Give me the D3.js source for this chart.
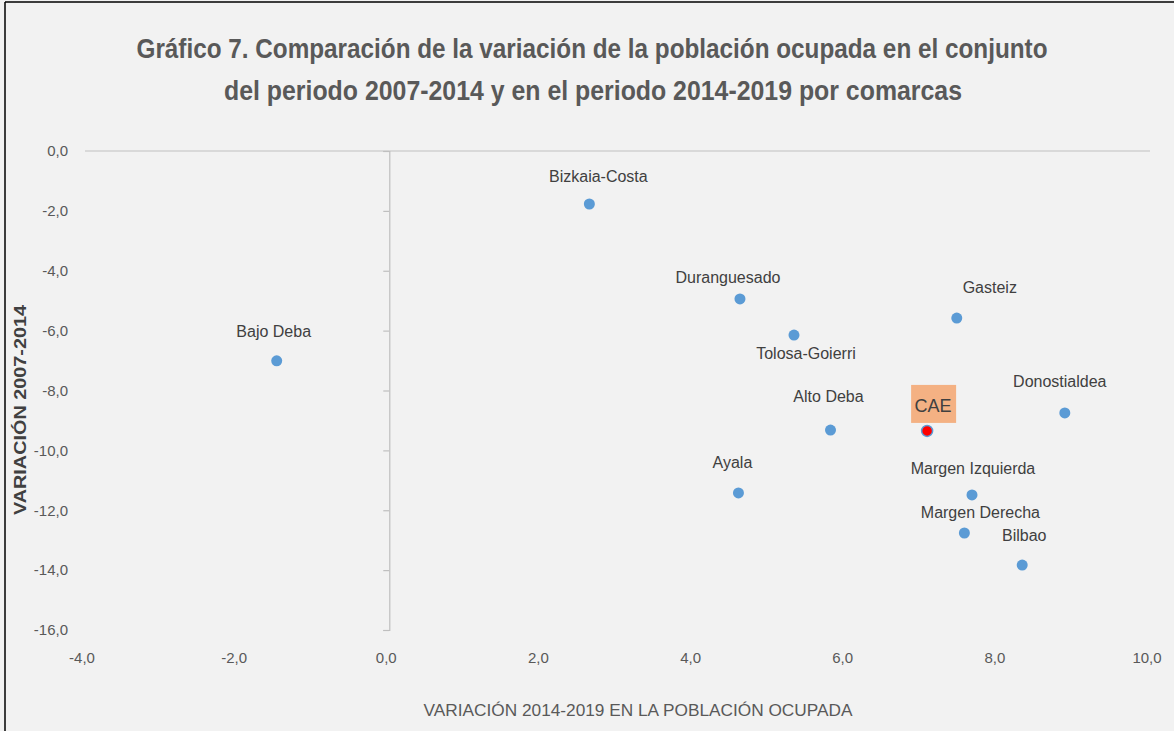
<!DOCTYPE html>
<html>
<head>
<meta charset="utf-8">
<script src="https://cdn.jsdelivr.net/npm/d3@7"></script>
<style>
  body { margin: 0; background: #f2f2f2; }
  svg { display: block; }
  text { font-family: "Liberation Sans", Arial, sans-serif; }
</style>
</head>
<body>
<div id="chart"></div>
<script>
// comarcas and their two variations
const comarcas = ["Bizkaia-Costa", "Duranguesado", "Tolosa-Goierri", "Alto Deba", "Ayala", "CAE",
  "Gasteiz", "Donostialdea", "Margen Izquierda", "Margen Derecha", "Bilbao", "Bajo Deba"];
const var1419 = [2.63, 4.61, 5.32, 5.80, 4.59, 7.07, 7.46, 8.88, 7.66, 7.56, 8.32, -1.48];
const var0714 = [-1.77, -4.94, -6.15, -9.32, -11.42, -9.35, -5.58, -8.75, -11.49, -12.76, -13.83, -7.01];
const xTicks = [-4, -2, 0, 2, 4, 6, 8, 10];
const yTicks = [0, -2, -4, -6, -8, -10, -12, -14, -16];

// label offsets (layout only), dx/dy in px from the point
const labelOffsets = [[9, -22], [-12, -16], [12, 24], [-2, -28], [-6, -25], [6, -19],
  [33, -25], [-5, -26], [1, -21], [16, -15], [2, -24], [-3, -24]];

const W = 1174, H = 731;
const svg = d3.select("#chart").append("svg")
  .attr("width", W).attr("height", H);

svg.append("rect").attr("width", W).attr("height", H).attr("fill", "#f2f2f2");
// frame edges
svg.append("line").attr("x1", 5).attr("x2", 5).attr("y1", 2).attr("y2", H).attr("stroke", "#000").attr("stroke-width", 1.5);
svg.append("line").attr("x1", 5).attr("x2", W).attr("y1", 2).attr("y2", 2).attr("stroke", "#000").attr("stroke-width", 1.5);

const x = d3.scaleLinear().domain([-4, 10]).range([85, 1150]);
const y = d3.scaleLinear().domain([-16, 0]).range([630, 151]);

// title
const title = svg.append("text").attr("text-anchor", "middle")
  .attr("fill", "#595959").attr("font-weight", "bold").attr("font-size", 27);
title.append("tspan").attr("x", 592).attr("y", 58)
  .attr("textLength", 911).attr("lengthAdjust", "spacingAndGlyphs")
  .text("Gráfico 7. Comparación de la variación de la población ocupada en el conjunto");
title.append("tspan").attr("x", 593).attr("y", 100)
  .attr("textLength", 738).attr("lengthAdjust", "spacingAndGlyphs")
  .text("del periodo 2007-2014 y en el periodo 2014-2019 por comarcas");

// x axis line at y = 0
svg.append("line")
  .attr("x1", x(-4)).attr("x2", x(10))
  .attr("y1", y(0)).attr("y2", y(0))
  .attr("stroke", "#bfbfbf").attr("stroke-width", 1.2);

// y axis at x = 0
const yAxis = d3.axisLeft(y).tickValues(yTicks).tickSize(6).tickFormat("");
const gy = svg.append("g").attr("transform", `translate(${x(0)},0)`).call(yAxis);
gy.selectAll("path, line").attr("stroke", "#bfbfbf").attr("stroke-width", 1.2);

const fmt = d => d3.format(".1f")(d).replace(".", ",").replace("−", "-");

// y tick labels at left
svg.append("g").selectAll("text").data(yTicks).join("text")
  .attr("x", 68).attr("y", d => y(d)).attr("dy", "0.35em")
  .attr("text-anchor", "end").attr("fill", "#595959").attr("font-size", 15)
  .text(fmt);

// x tick labels at bottom
svg.append("g").selectAll("text").data(xTicks).join("text")
  .attr("x", d => x(d) - 3).attr("y", 663)
  .attr("text-anchor", "middle").attr("fill", "#595959").attr("font-size", 15)
  .text(fmt);

// axis titles
svg.append("text").attr("x", 638).attr("y", 716).attr("text-anchor", "middle")
  .attr("fill", "#595959").attr("font-size", 16)
  .attr("textLength", 429).attr("lengthAdjust", "spacingAndGlyphs")
  .text("VARIACIÓN  2014-2019 EN LA POBLACIÓN OCUPADA");
svg.append("text").attr("transform", "translate(26,410) rotate(-90)")
  .attr("text-anchor", "middle").attr("fill", "#404040").attr("font-size", 16).attr("font-weight", "bold")
  .attr("textLength", 210).attr("lengthAdjust", "spacingAndGlyphs")
  .text("VARIACIÓN  2007-2014");

const pts = comarcas.map((c, i) => ({ name: c, vx: var1419[i], vy: var0714[i], off: labelOffsets[i] }));

// CAE box
const cae = pts.find(p => p.name === "CAE");
svg.append("rect")
  .attr("x", x(cae.vx) - 16).attr("y", y(cae.vy) - 46)
  .attr("width", 45).attr("height", 38).attr("fill", "#f4b183");

svg.append("g").selectAll("circle").data(pts).join("circle")
  .attr("cx", d => x(d.vx)).attr("cy", d => y(d.vy)).attr("r", 5.5)
  .attr("fill", d => d.name === "CAE" ? "#ff0000" : "#5b9bd5")
  .attr("stroke", d => d.name === "CAE" ? "#5b9bd5" : "none").attr("stroke-width", 1.5);

svg.append("g").selectAll("text").data(pts).join("text")
  .attr("x", d => x(d.vx) + d.off[0]).attr("y", d => y(d.vy) + d.off[1])
  .attr("text-anchor", "middle").attr("fill", "#404040")
  .attr("font-size", d => d.name === "CAE" ? 18 : 16)
  .text(d => d.name);
</script>
</body>
</html>
